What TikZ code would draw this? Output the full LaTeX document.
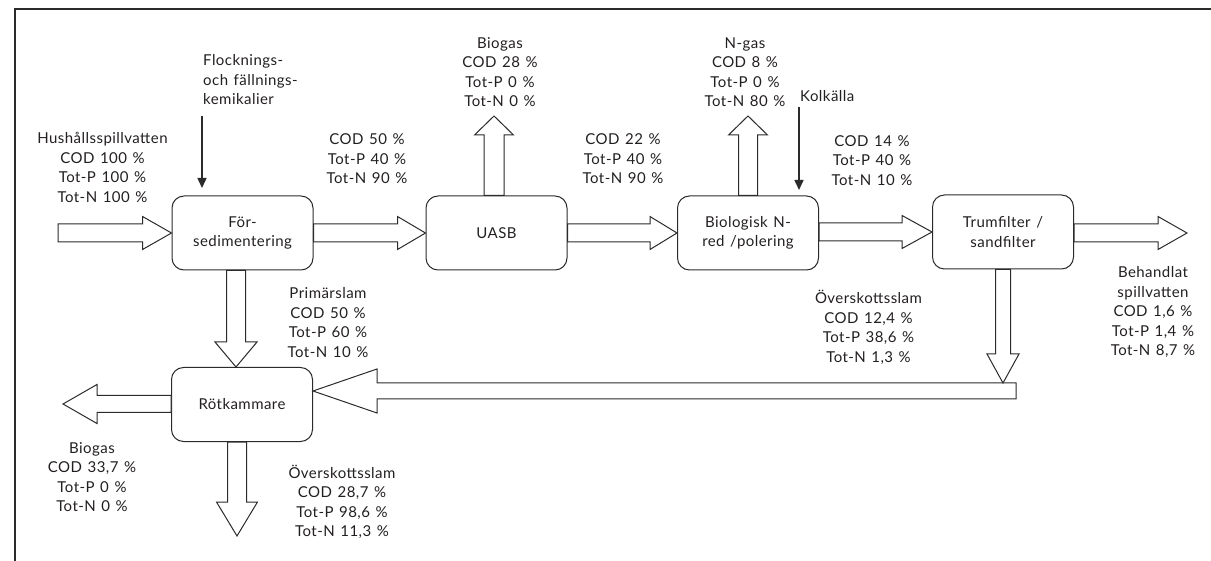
\documentclass[tikz,border=0pt]{standalone}
\usepackage{fontspec}
\setmainfont{Lato}[LetterSpace=3,WordSpace=1.3]
\usetikzlibrary{calc,arrows.meta}
\definecolor{ink}{HTML}{231F20}
\definecolor{linec}{HTML}{2B2B2B}
\newcommand\blkR[5]{\draw[blk] let \p1=(#1),\p2=(#2) in (\x1,\y2+#3pt) -- (\x2-#5pt,\y2+#3pt) -- (\x2-#5pt,\y2+#4pt) -- (\x2,\y2) -- (\x2-#5pt,\y2-#4pt) -- (\x2-#5pt,\y2-#3pt) -- (\x1,\y2-#3pt) -- cycle;}
\newcommand\blkL[5]{\draw[blk] let \p1=(#1),\p2=(#2) in (\x1,\y2+#3pt) -- (\x2+#5pt,\y2+#3pt) -- (\x2+#5pt,\y2+#4pt) -- (\x2,\y2) -- (\x2+#5pt,\y2-#4pt) -- (\x2+#5pt,\y2-#3pt) -- (\x1,\y2-#3pt) -- cycle;}
\newcommand\blkD[5]{\draw[blk] let \p1=(#1),\p2=(#2) in (\x2+#3pt,\y1) -- (\x2+#3pt,\y2+#5pt) -- (\x2+#4pt,\y2+#5pt) -- (\x2,\y2) -- (\x2-#4pt,\y2+#5pt) -- (\x2-#3pt,\y2+#5pt) -- (\x2-#3pt,\y1) -- cycle;}
\newcommand\blkU[5]{\draw[blk] let \p1=(#1),\p2=(#2) in (\x2+#3pt,\y1) -- (\x2+#3pt,\y2-#5pt) -- (\x2+#4pt,\y2-#5pt) -- (\x2,\y2) -- (\x2-#4pt,\y2-#5pt) -- (\x2-#3pt,\y2-#5pt) -- (\x2-#3pt,\y1) -- cycle;}
\begin{document}
\begin{tikzpicture}[x=1pt,y=-1pt,
  every node/.style={text=ink, font=\fontsize{15}{19.5}\selectfont},
  box/.style={draw=linec, line width=1pt, rounded corners=12pt, minimum width=141pt, minimum height=74pt, align=center, inner sep=0pt},
  lbl/.style={align=center, inner sep=0pt},
  blk/.style={draw=linec, line width=1pt, fill=white, line join=miter},
  thin/.style={draw=linec, line width=1.5pt, -{Triangle[length=10pt,width=9pt]}},
  frame/.style={draw=linec, line width=1.3pt}]
\useasboundingbox (0,0) rectangle (1211,561);
\draw[frame] (15,561) -- (15,9) -- (1211,9);

% process boxes
\node[box] (fors) at (242.5,233) {För-\\sedimentering};
\node[box] (uasb) at (496.5,233) {UASB};
\node[box] (bio)  at (748,233) {Biologisk N-\\red /polering};
\node[box] (trum) at (1003,232) {Trumfilter /\\sandfilter};
\node[box] (rot)  at (242,404.5) {Rötkammare};

% free ends
\coordinate (in)   at (58,233);
\coordinate (out)  at (1187,233);
\coordinate (gas1) at (494,116);
\coordinate (gas2) at (748,116);
\coordinate (fd)   at ($(fors.south)+(-5,0)$);
\coordinate (fdt)  at ($(rot.north)+(-6,0)$);
\coordinate (rd)   at ($(rot.south)+(-5,0)$);
\coordinate (rdt)  at (237,536);
\coordinate (rl)   at (63,404);
\coordinate (ret)  at (1016,391);
\coordinate (rett) at ($(rot.east)+(0,-13.5)$);
\coordinate (tbar) at (1003,383);
\coordinate (ut)   at ($(uasb.north)+(-2,0)$);
\coordinate (chem) at (202,116);
\coordinate (chemt) at (202,188);
\coordinate (kol)  at (799,107);
\coordinate (kolt) at (799,190);

% block arrows
\blkR{in}{fors.west}{9}{16.5}{29}
\blkR{fors.east}{uasb.west}{9}{16.5}{28}
\blkR{uasb.east}{bio.west}{9}{16.5}{27}
\blkR{bio.east}{trum.west}{9}{16.5}{30}
\blkR{trum.east}{out}{9}{16.5}{29}
\blkU{ut}{gas1}{10}{19.5}{19}
\blkU{bio.north}{gas2}{9.5}{19.5}{19}
\blkD{fd}{fdt}{9.5}{21}{25}
\blkD{rd}{rdt}{9.5}{20.5}{34}
\blkL{rot.west}{rl}{8.5}{19.5}{34}
\blkL{ret}{rett}{8}{22}{64}
\blkD{trum.south}{tbar}{7.5}{16}{29}

% thin arrows
\draw[thin] (chem) -- (chemt);
\draw[thin] (kol) -- (kolt);

% labels
\node[lbl] (hush) at (102.5,167.5) {Hushållsspillvatten\\COD 100 \%\\Tot-P 100 \%\\Tot-N 100 \%};
\node[lbl, align=left, anchor=west] (flock) at (203,80) {Flocknings-\\och fällnings-\\kemikalier};
\node[lbl] (c1) at (367,159) {COD 50 \%\\Tot-P 40 \%\\Tot-N 90 \%};
\node[lbl] (bg1) at (500,72) {Biogas\\COD 28 \%\\Tot-P 0 \%\\Tot-N 0 \%};
\node[lbl] (c2) at (623,159) {COD 22 \%\\Tot-P 40 \%\\Tot-N 90 \%};
\node[lbl] (ng) at (745,72) {N-gas\\COD 8 \%\\Tot-P 0 \%\\Tot-N 80 \%};
\node[lbl, anchor=west] (kl) at (800,96) {Kolkälla};
\node[lbl] (c3) at (872,160.5) {COD 14 \%\\Tot-P 40 \%\\Tot-N 10 \%};
\node[lbl] (prim) at (328,322.5) {Primärslam\\COD 50 \%\\Tot-P 60 \%\\Tot-N 10 \%};
\node[lbl] (ov1) at (868.5,327.5) {Överskottsslam\\COD 12,4 \%\\Tot-P 38,6 \%\\Tot-N 1,3 \%};
\node[lbl] (beh) at (1153,312) {Behandlat\\spillvatten\\COD 1,6 \%\\Tot-P 1,4 \%\\Tot-N 8,7 \%};
\node[lbl] (bg2) at (92,477) {Biogas\\COD 33,7 \%\\Tot-P 0 \%\\Tot-N 0 \%};
\node[lbl] (ov2) at (342,502) {Överskottsslam\\COD 28,7 \%\\Tot-P 98,6 \%\\Tot-N 11,3 \%};
\end{tikzpicture}
\end{document}
